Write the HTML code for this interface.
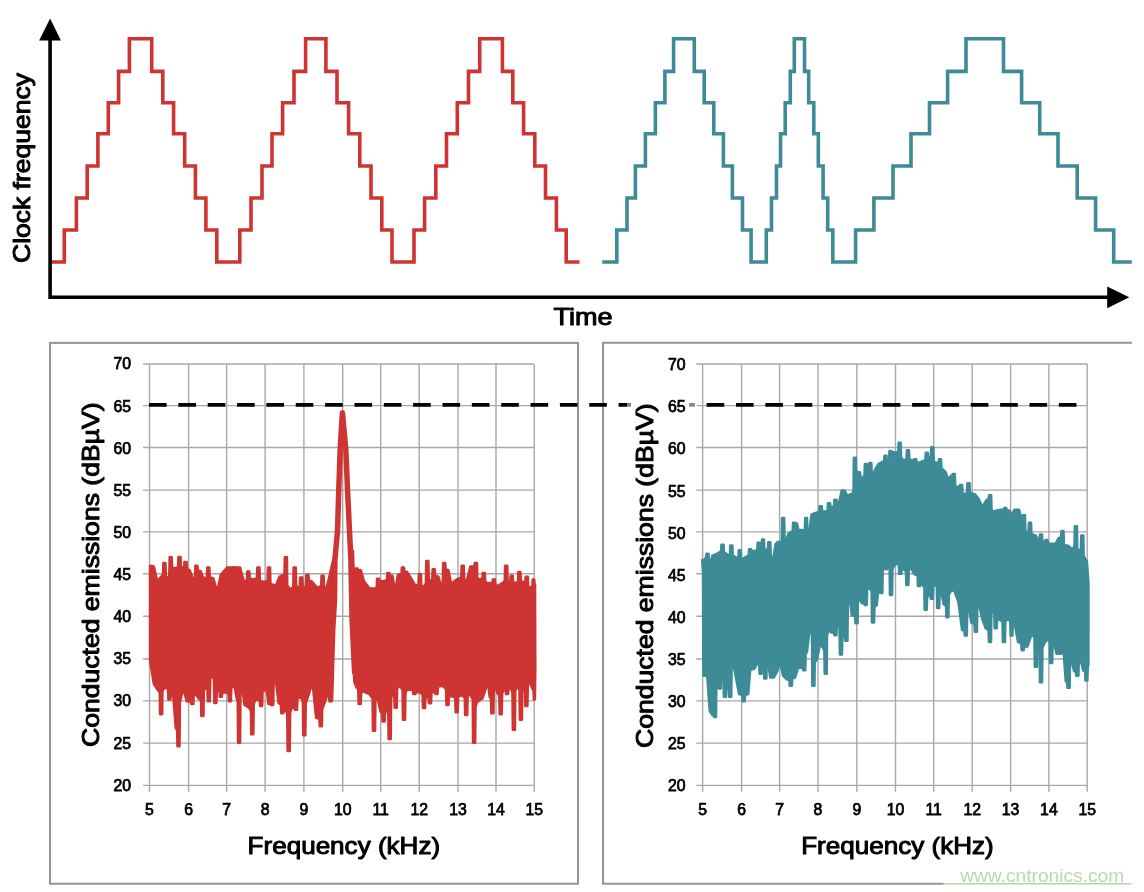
<!DOCTYPE html>
<html lang="en"><head><meta charset="utf-8"><title>Clock frequency dithering: conducted emissions</title>
<style>html,body{margin:0;padding:0;background:#fff}body{width:1144px;height:892px;overflow:hidden}svg{display:block}text{font-family:"Liberation Sans",Arial,Helvetica,sans-serif;fill:#000}.t{font-size:24px;stroke:#000;stroke-width:1px;stroke-linejoin:round}.n{font-size:15.8px;stroke:#000;stroke-width:.75px}</style></head><body>
<svg width="1144" height="892" viewBox="0 0 1144 892">
<rect width="1144" height="892" fill="#fff"/>
<path d="M50.0 262.0H64.3V230.0H76.4V198.0H87.2V166.0H97.9V133.8H108.3V102.7H118.6V71.4H129.4V38.8H151.7V71.4H162.8V102.7H173.6V133.8H184.7V166.0H195.4V198.0H205.9V230.0H216.8V262.0H239.8V230.0H251.0V198.0H262.0V166.0H272.0V133.8H282.6V102.7H294.0V71.4H305.6V38.8H325.9V71.4H337.0V102.7H348.6V133.8H359.8V166.0H371.0V198.0H381.8V230.0H392.0V262.0H414.0V230.0H424.6V198.0H435.8V166.0H446.5V133.8H457.3V102.7H468.5V71.4H479.7V38.8H502.4V71.4H512.8V102.7H523.6V133.8H534.8V166.0H545.5V198.0H556.4V230.0H566.2V262.0H579.5" fill="none" stroke="#CE3432" stroke-width="3.6" stroke-linejoin="miter"/>
<path d="M602.2 262.0H616.8V230.0H627.0V198.0H635.4V166.0H645.4V133.8H655.4V102.7H664.9V71.4H673.6V38.8H694.3V71.4H704.2V102.7H713.8V133.8H723.4V166.0H732.4V198.0H742.5V230.0H751.1V262.0H766.3V230.0H771.5V198.0H776.5V166.0H780.5V133.8H785.2V102.7H790.3V71.4H794.3V38.8H804.5V71.4H808.7V102.7H813.8V133.8H818.3V166.0H823.1V198.0H827.7V230.0H832.8V262.0H855.6V230.0H873.9V198.0H893.0V166.0H911.0V133.8H929.5V102.7H947.6V71.4H966.0V38.8H1003.5V71.4H1021.6V102.7H1039.7V133.8H1058.0V166.0H1077.2V198.0H1095.6V230.0H1113.7V262.0H1131.8" fill="none" stroke="#3D8B96" stroke-width="3.6" stroke-linejoin="miter"/>
<path d="M50.1 40V297.2H1108" fill="none" stroke="#000" stroke-width="3.6" stroke-linejoin="miter"/>
<path d="M50.1 18.6L39.1 40.4H60.9Z" fill="#000"/>
<path d="M1129.2 297.3L1107.2 286.4V308.3Z" fill="#000"/>
<text class="t" transform="translate(30.2 263) rotate(-90)" textLength="190" lengthAdjust="spacingAndGlyphs">Clock frequency</text>
<text class="t" x="553.6" y="324.6" textLength="59" lengthAdjust="spacingAndGlyphs">Time</text>
<rect x="50" y="342.9" width="528" height="540.8" fill="none" stroke="#959595" stroke-width="2"/>
<path d="M1132 342.8H603V883.7H944" fill="none" stroke="#959595" stroke-width="2"/>
<path d="M149.50 364.05V791.65M188.60 364.05V791.65M226.60 364.05V791.65M265.10 364.05V791.65M303.90 364.05V791.65M342.70 364.05V791.65M380.70 364.05V791.65M419.20 364.05V791.65M458.00 364.05V791.65M496.00 364.05V791.65M534.20 364.05V791.65M143.10 364.05H534.20M143.10 405.60H534.20M143.10 447.50H534.20M143.10 490.10H534.20M143.10 531.90H534.20M143.10 573.80H534.20M143.10 616.20H534.20M143.10 659.00H534.20M143.10 700.90H534.20M143.10 743.10H534.20M143.10 785.35H534.20" fill="none" stroke="#a8a8a8" stroke-width="1.4"/>
<path d="M702.65 364.05V791.65M741.60 364.05V791.65M779.60 364.05V791.65M818.00 364.05V791.65M856.80 364.05V791.65M895.50 364.05V791.65M933.70 364.05V791.65M972.20 364.05V791.65M1010.60 364.05V791.65M1048.90 364.05V791.65M1087.20 364.05V791.65M696.25 364.05H1087.20M696.25 405.60H1087.20M696.25 447.50H1087.20M696.25 490.10H1087.20M696.25 531.90H1087.20M696.25 573.80H1087.20M696.25 616.20H1087.20M696.25 659.00H1087.20M696.25 700.90H1087.20M696.25 743.10H1087.20M696.25 785.35H1087.20" fill="none" stroke="#a8a8a8" stroke-width="1.4"/>
<path d="M150.1 565.7L153.8 566.6L157.4 582.0L161.0 576.7L163.1 575.1L163.4 563.0L165.4 563.0L165.8 576.6L167.5 578.5L169.3 576.0L169.7 557.4L171.7 557.4L172.0 567.2L174.9 568.5L178.2 567.1L178.5 557.0L180.5 557.0L180.8 566.2L182.2 567.5L184.2 566.8L184.5 562.0L186.5 562.0L186.8 569.3L189.6 570.3L193.2 579.5L195.1 577.8L195.4 565.7L197.4 565.7L197.8 570.5L200.6 571.2L203.3 578.5L207.0 577.2L207.3 567.5L209.3 567.5L209.7 577.2L213.4 578.5L217.1 592.0L220.8 574.9L227.2 567.5L232.2 567.5L232.6 567.2L234.6 567.2L234.9 567.5L240.0 567.5L243.7 581.3L247.0 580.1L247.3 571.6L249.3 571.6L249.7 578.6L253.8 579.5L257.0 578.1L257.4 567.5L259.4 567.5L259.8 580.4L263.9 582.2L267.6 580.4L268.0 567.5L270.0 567.5L270.4 583.8L275.8 586.0L279.5 576.7L284.5 574.4L284.9 557.4L286.9 557.4L287.2 585.6L290.5 589.5L293.3 586.9L293.7 567.5L295.7 567.5L296.1 585.3L297.9 587.7L299.8 586.5L300.2 577.6L302.2 577.6L302.6 586.5L304.3 587.7L306.0 586.2L306.4 574.9L308.4 574.9L308.8 580.5L311.6 581.3L317.1 587.7L321.2 586.3L321.6 575.8L323.6 575.8L324.0 587.1L326.3 588.6L329.0 578.5L332.7 562.0L334.5 556.0L332.0 680.0L331.7 681.9L331.3 695.8L329.8 695.8L329.4 695.0L327.2 694.9L323.5 705.9L322.2 708.3L321.8 726.1L319.8 726.1L319.4 718.8L316.2 717.8L312.5 682.0L307.0 699.5L305.7 703.8L305.3 735.3L303.3 735.3L302.9 701.3L300.6 696.7L297.4 698.2L297.0 709.6L295.0 709.6L294.6 707.9L291.4 707.7L290.1 712.9L289.7 750.9L287.7 750.9L287.3 714.6L285.9 709.6L283.7 710.0L283.3 713.2L281.3 713.2L280.9 704.3L278.6 703.1L275.8 679.3L273.6 682.4L273.2 705.0L271.2 705.0L270.8 704.1L268.5 704.0L266.7 689.4L262.5 691.4L262.1 705.9L260.1 705.9L259.8 700.3L255.6 699.5L253.7 703.7L253.3 734.3L251.3 734.3L251.0 710.9L249.2 707.7L244.6 705.0L241.9 685.7L240.4 692.5L240.1 742.6L238.1 742.6L237.8 702.2L236.4 696.7L234.5 685.7L231.2 687.6L230.9 701.3L228.9 701.3L228.6 693.2L226.3 692.1L222.2 692.7L221.8 696.7L219.8 696.7L219.5 690.3L218.0 689.4L216.7 691.0L216.3 703.0L214.3 703.0L214.0 678.9L212.1 675.6L210.2 678.7L209.8 701.3L207.8 701.3L207.5 689.2L205.2 687.5L203.8 690.9L203.4 716.0L201.4 716.0L201.1 700.6L198.7 698.5L195.1 693.0L193.7 694.3L193.3 704.0L191.3 704.0L191.0 701.6L186.8 701.3L183.1 687.5L181.3 696.7L179.8 702.7L179.5 746.3L177.5 746.3L177.2 730.2L175.8 728.0L173.0 692.1L170.8 693.0L170.4 699.5L168.4 699.5L168.1 688.9L164.8 687.5L162.4 690.7L162.1 714.1L160.1 714.1L159.8 692.4L157.4 689.4L153.8 683.9L150.1 660.0Z" fill="#CE3432" stroke="#CE3432" stroke-width="2.6" stroke-linejoin="round"/>
<path d="M352.9 551.0L353.9 582.2L355.2 580.6L355.6 568.5L357.6 568.5L358.0 570.1L360.8 570.3L364.0 581.3L369.5 588.6L375.0 588.6L376.8 587.4L377.1 578.9L379.1 578.9L379.5 581.0L383.2 581.3L387.0 580.3L387.4 573.0L389.4 573.0L389.8 575.5L392.4 575.8L395.2 592.3L397.9 574.9L401.5 574.0L401.9 567.5L403.9 567.5L404.2 571.5L407.1 572.1L411.7 579.5L415.4 585.9L418.5 584.5L418.9 574.0L420.9 574.0L421.2 585.3L423.6 586.8L425.9 583.7L426.3 561.0L428.3 561.0L428.7 578.9L430.6 581.3L432.3 579.9L432.7 569.4L434.7 569.4L435.1 575.8L438.3 576.7L441.0 585.9L442.8 583.2L443.2 563.0L445.2 563.0L445.6 569.4L448.4 570.3L451.1 584.0L456.7 579.5L461.3 577.8L461.7 565.7L463.7 565.7L464.1 579.4L466.7 581.3L470.4 566.6L474.5 566.2L474.9 563.0L476.9 563.0L477.2 577.5L478.7 579.5L482.4 578.7L482.8 573.0L484.8 573.0L485.2 581.9L487.9 583.1L492.5 582.7L492.9 579.5L494.9 579.5L495.2 585.1L498.0 585.9L502.5 583.1L504.8 581.0L505.2 565.7L507.2 565.7L507.6 581.0L509.0 583.1L510.3 582.2L510.7 575.8L512.7 575.8L513.1 582.2L515.4 583.1L518.0 581.8L518.4 572.1L520.4 572.1L520.8 581.0L522.7 582.2L525.4 581.5L525.8 576.7L527.8 576.7L528.1 586.4L530.1 587.7L532.4 586.7L532.7 579.5L534.2 579.5L534.6 584.3L535.0 585.0L535.2 660.0L535.3 664.7L534.9 699.5L533.9 699.5L533.6 690.6L532.8 689.4L529.2 681.1L527.8 684.1L527.4 705.9L525.4 705.9L525.0 689.7L523.7 687.5L522.2 691.4L521.9 719.7L519.9 719.7L519.5 689.8L517.2 685.7L515.2 691.0L514.9 729.7L512.9 729.7L512.5 692.6L510.8 687.5L508.5 688.3L508.1 694.0L506.1 694.0L505.8 690.7L503.5 690.3L502.1 693.2L501.7 714.1L499.7 714.1L499.3 695.5L497.4 693.0L495.2 685.7L493.8 689.0L493.4 713.2L491.4 713.2L491.0 698.7L489.7 696.7L487.9 682.0L482.4 698.5L476.8 702.2L475.5 707.0L475.1 742.6L473.1 742.6L472.8 699.0L469.1 693.0L467.6 695.6L467.2 715.0L465.2 715.0L464.8 697.3L461.2 694.9L458.1 697.0L457.7 712.3L455.7 712.3L455.3 697.8L451.1 695.8L448.9 696.9L448.5 705.0L446.5 705.0L446.1 689.6L444.7 687.5L442.0 685.7L437.9 686.7L437.5 694.0L435.5 694.0L435.1 692.3L432.8 692.1L431.4 693.4L431.0 703.1L429.0 703.1L428.6 697.5L427.3 696.7L425.4 698.1L425.0 708.0L423.0 708.0L422.6 694.0L419.0 692.1L415.8 692.3L415.4 694.0L413.4 694.0L413.0 690.0L407.1 689.4L405.4 693.0L405.0 719.7L403.0 719.7L402.6 689.8L399.4 685.7L397.1 688.3L396.7 707.7L394.7 707.7L394.3 694.8L392.4 693.0L391.1 698.5L390.7 738.9L388.7 738.9L388.3 713.1L386.0 709.6L385.0 711.0L384.6 721.5L382.6 721.5L382.2 712.6L380.5 711.4L377.4 696.7L375.4 700.8L375.0 730.7L373.0 730.7L372.6 698.4L369.5 694.0L363.0 691.2L361.1 692.7L360.7 704.0L358.7 704.0L358.3 689.5L356.6 687.5L354.4 682.0L353.4 660.0Z" fill="#CE3432" stroke="#CE3432" stroke-width="2.6" stroke-linejoin="round"/>
<path d="M330.6 700L332.7 630L334.5 600L334.9 560L337.5 531L338.8 489L340.2 449L342.4 412.8L345.8 449L347.5 489L349.5 531L350.9 560L352.1 620L354.6 672" fill="none" stroke="#CE3432" stroke-width="5.5" stroke-linejoin="round" stroke-linecap="round"/>
<path d="M702.7 562.2L705.1 558.5L706.1 557.9L706.5 553.9L708.5 553.9L708.8 562.8L710.1 564.0L712.4 555.7L717.0 553.9L719.8 552.1L721.2 551.2L721.5 544.7L723.5 544.7L723.9 552.0L725.3 553.0L729.0 555.7L730.0 554.5L730.3 545.6L732.3 545.6L732.7 555.3L734.5 556.7L737.6 558.5L738.4 557.5L738.8 550.2L740.6 550.2L741.0 558.3L742.4 559.4L746.4 556.7L748.7 555.8L749.1 549.3L751.1 549.3L751.4 550.9L754.7 551.1L757.3 550.2L757.7 542.9L759.7 542.9L760.0 548.5L761.1 549.3L761.8 548.1L762.1 539.6L763.9 539.6L764.3 549.0L765.7 550.2L768.0 549.3L768.3 542.3L770.3 542.3L770.7 557.4L773.0 559.4L775.8 543.8L777.2 543.6L777.5 542.0L779.5 542.0L779.9 546.8L780.9 547.5L781.8 544.0L782.2 518.1L784.1 518.1L784.5 539.1L785.5 542.0L788.6 533.7L791.4 531.9L792.8 530.8L793.1 522.7L795.1 522.7L795.5 523.5L796.9 523.6L798.7 531.0L800.1 530.8L800.5 530.0L802.5 530.0L802.8 530.8L804.2 531.0L804.9 529.4L805.3 518.1L807.0 518.1L807.4 534.3L808.8 536.5L811.6 514.4L814.3 513.5L817.1 512.6L819.4 511.8L819.7 506.2L821.7 506.2L822.1 511.0L824.4 511.7L827.6 510.7L828.0 503.4L830.0 503.4L830.3 506.7L831.7 507.1L834.1 506.2L834.4 499.8L836.4 499.8L836.8 502.2L839.1 502.5L841.8 490.6L844.6 490.6L847.3 496.1L850.7 494.2L852.9 493.3L853.6 489.1L853.9 457.9L855.7 457.9L856.0 470.5L857.4 472.2L859.8 472.2L861.7 483.2L863.9 475.9L864.6 474.5L864.9 464.0L866.7 464.0L867.1 472.8L868.1 474.1L869.0 472.7L869.4 463.0L871.3 463.0L871.6 472.7L873.0 474.1L875.8 468.5L878.6 464.0L882.2 462.1L884.2 461.4L884.5 455.7L886.5 455.7L886.8 465.4L887.7 466.7L889.1 464.8L889.5 451.1L891.5 451.1L891.8 451.9L893.2 452.0L896.0 452.9L898.3 451.7L898.7 442.8L900.7 442.8L901.0 457.4L902.4 459.4L905.1 460.3L906.6 459.1L906.9 450.2L908.9 450.2L909.3 459.1L911.6 460.3L913.9 460.2L914.2 459.4L916.2 459.4L916.6 462.6L918.9 463.0L922.6 461.2L925.5 460.2L925.8 452.9L927.8 452.9L928.2 457.0L929.9 457.5L931.0 456.3L931.3 447.4L933.3 447.4L933.7 461.2L935.4 463.0L938.7 462.6L939.0 459.4L941.0 459.4L941.4 468.3L942.8 469.5L945.5 472.2L948.3 479.6L951.0 475.9L952.4 475.7L952.8 474.1L954.8 474.1L955.1 485.4L956.5 486.9L959.8 486.7L960.1 485.1L962.1 485.1L962.5 493.1L963.9 494.2L967.1 492.9L967.5 483.2L969.5 483.2L969.8 492.1L971.2 493.3L974.9 494.2L978.6 498.8L982.2 507.1L986.8 499.8L988.8 499.2L989.1 495.2L991.1 495.2L991.5 509.7L993.3 511.7L996.0 510.8L1000.6 509.8L1003.8 509.6L1004.2 508.0L1006.2 508.0L1006.5 510.4L1009.8 510.8L1011.6 516.3L1014.4 509.8L1019.0 509.8L1021.7 519.9L1022.6 519.4L1023.0 515.4L1024.9 515.4L1025.3 530.7L1027.2 532.8L1028.6 531.6L1029.0 522.7L1031.0 522.7L1031.3 533.2L1032.7 534.6L1035.5 535.5L1038.2 540.1L1039.6 539.5L1040.0 534.6L1042.0 534.6L1042.3 541.1L1043.7 542.0L1045.1 541.7L1045.5 540.1L1047.5 540.1L1047.8 543.4L1049.2 543.8L1055.7 543.8L1058.4 538.3L1061.1 537.4L1061.5 531.0L1063.5 531.0L1063.8 543.9L1064.8 545.6L1067.6 545.6L1072.2 549.3L1074.5 546.6L1074.9 526.4L1076.9 526.4L1077.2 548.2L1078.6 551.1L1080.9 549.3L1081.3 535.5L1083.3 535.5L1083.6 555.7L1085.0 558.5L1086.9 562.2L1088.3 582.3L1088.4 584.1L1088.4 664.8L1087.7 666.7L1087.3 680.4L1085.5 680.4L1085.2 671.5L1083.2 670.3L1080.5 659.3L1078.7 661.3L1078.4 675.8L1076.4 675.8L1076.0 671.8L1074.1 671.2L1071.3 659.3L1069.9 662.7L1069.6 687.8L1067.6 687.8L1067.2 682.1L1065.8 681.3L1063.0 642.8L1061.2 653.8L1056.6 653.8L1053.9 642.8L1052.5 645.2L1052.1 663.0L1050.1 663.0L1049.8 642.0L1047.4 639.1L1044.7 642.8L1042.4 647.5L1042.0 682.3L1040.0 682.3L1039.7 647.5L1038.3 642.8L1037.2 645.7L1036.9 666.7L1034.9 666.7L1034.5 637.6L1031.8 633.6L1027.3 646.5L1024.0 646.9L1023.7 650.1L1021.7 650.1L1021.3 642.9L1018.1 641.9L1013.5 617.1L1012.8 619.3L1012.4 635.4L1010.7 635.4L1010.3 620.9L1007.1 618.9L1005.3 621.7L1004.9 641.9L1002.9 641.9L1002.6 621.7L998.8 618.9L997.0 620.0L996.7 628.1L994.7 628.1L994.3 612.0L993.3 609.8L991.3 613.6L991.0 641.9L989.0 641.9L988.6 629.8L985.6 628.1L982.3 618.9L978.6 602.4L977.2 605.9L976.9 631.8L974.9 631.8L974.5 623.7L971.3 622.6L968.5 604.2L967.1 608.0L966.8 635.4L964.8 635.4L964.4 630.6L962.1 629.9L958.4 601.5L953.8 589.6L950.7 591.4L948.8 594.5L948.4 617.1L946.4 617.1L946.1 605.8L943.7 604.2L941.0 589.6L939.6 591.8L939.2 607.9L937.2 607.9L936.9 586.9L934.6 584.1L933.2 585.8L932.8 598.7L930.8 598.7L930.5 595.5L929.1 595.1L927.1 596.8L926.7 609.8L924.7 609.8L924.4 587.1L921.7 584.1L920.3 584.3L920.0 585.9L918.0 585.9L917.6 575.4L914.4 574.0L910.7 567.5L908.7 569.6L908.4 585.0L906.4 585.0L906.0 571.1L903.3 569.2L901.6 569.7L901.2 573.8L899.2 573.8L898.9 564.9L896.9 563.7L894.2 565.5L892.4 569.0L892.0 594.9L890.0 594.9L889.7 569.0L888.6 565.5L887.2 565.9L886.9 569.2L885.1 569.2L884.8 565.9L884.1 565.5L882.7 568.8L882.3 593.0L880.3 593.0L880.0 586.6L878.6 585.7L876.7 605.0L874.4 607.1L874.0 622.4L872.0 622.4L871.7 591.7L869.4 587.5L867.1 589.6L866.7 605.0L864.7 605.0L864.4 603.4L862.0 603.1L859.3 598.5L857.9 601.5L857.5 623.3L855.5 623.3L855.2 616.1L851.9 615.1L849.2 594.9L847.8 600.4L847.4 640.8L845.4 640.8L845.1 635.9L843.7 635.3L842.3 637.6L841.9 654.5L839.9 654.5L839.6 627.9L838.2 624.2L836.8 625.6L836.4 635.3L834.4 635.3L834.1 632.8L831.7 632.5L828.1 630.7L827.0 635.8L826.7 673.8L824.8 673.8L824.4 651.2L823.5 648.1L819.8 644.4L817.1 659.1L814.7 662.3L814.4 685.7L812.4 685.7L812.0 634.9L809.7 627.9L807.0 651.8L805.6 654.0L805.2 670.1L803.2 670.1L802.9 667.7L800.5 667.4L797.8 668.3L795.0 677.5L792.2 678.5L791.8 685.7L789.8 685.7L789.5 680.1L786.8 679.3L783.1 675.6L779.4 659.1L777.6 670.1L773.9 677.5L770.3 677.5L768.1 661.0L766.7 663.0L766.3 678.4L764.3 678.4L764.0 655.0L762.9 651.8L761.9 654.4L761.5 673.8L759.6 673.8L759.3 662.5L758.3 661.0L754.7 668.3L750.1 670.1L748.2 694.0L745.0 694.9L744.6 701.3L742.6 701.3L742.3 694.9L739.1 694.0L736.3 679.3L733.2 662.8L731.6 666.9L731.2 696.7L729.2 696.7L728.9 687.9L727.7 686.7L726.3 687.9L725.9 696.7L723.9 696.7L723.6 678.2L722.5 675.6L721.1 677.2L720.8 688.5L718.8 688.5L718.4 680.4L717.0 679.3L716.3 683.8L716.0 716.9L714.2 716.9L713.8 715.3L712.4 715.1L709.7 710.5L706.9 670.1L705.5 670.8L705.2 675.6L703.4 675.6L703.1 573.9L702.3 560.0Z" fill="#3D8B96" stroke="#3D8B96" stroke-width="2.6" stroke-linejoin="round"/>
<path d="M149.00 404.9h17.6M178.35 404.9h17.6M207.70 404.9h17.6M237.05 404.9h17.6M266.40 404.9h17.6M295.75 404.9h17.6M325.10 404.9h17.6M354.45 404.9h17.6M383.80 404.9h17.6M413.15 404.9h17.6M442.50 404.9h17.6M471.85 404.9h17.6M501.20 404.9h17.6M530.55 404.9h17.6M559.90 404.9h17.6M589.25 404.9h17.6M618.60 404.9h17.6M647.95 404.9h17.6M677.30 404.9h17.6M706.65 404.9h17.6M736.00 404.9h17.6M765.35 404.9h17.6M794.70 404.9h17.6M824.05 404.9h17.6M853.40 404.9h17.6M882.75 404.9h17.6M912.10 404.9h17.6M941.45 404.9h17.6M970.80 404.9h17.6M1000.15 404.9h17.6M1029.50 404.9h17.6M1058.85 404.9h17.6" fill="none" stroke="#000" stroke-width="3.6"/>
<rect x="631" y="396" width="58" height="20" fill="#fff"/>
<rect x="627" y="400" width="5" height="10" fill="#fff" fill-opacity=".5"/>
<rect x="687" y="400" width="10" height="10" fill="#fff" fill-opacity=".55"/>
<text class="n" x="131" y="369.4" text-anchor="end">70</text>
<text class="n" x="685.6" y="370.2" text-anchor="end">70</text>
<text class="n" x="131" y="411.5" text-anchor="end">65</text>
<text class="n" x="685.6" y="412.3" text-anchor="end">65</text>
<text class="n" x="131" y="453.6" text-anchor="end">60</text>
<text class="n" x="685.6" y="454.4" text-anchor="end">60</text>
<text class="n" x="131" y="495.7" text-anchor="end">55</text>
<text class="n" x="685.6" y="496.5" text-anchor="end">55</text>
<text class="n" x="131" y="537.9" text-anchor="end">50</text>
<text class="n" x="685.6" y="538.7" text-anchor="end">50</text>
<text class="n" x="131" y="580.0" text-anchor="end">45</text>
<text class="n" x="685.6" y="580.8" text-anchor="end">45</text>
<text class="n" x="131" y="622.1" text-anchor="end">40</text>
<text class="n" x="685.6" y="622.9" text-anchor="end">40</text>
<text class="n" x="131" y="664.3" text-anchor="end">35</text>
<text class="n" x="685.6" y="665.1" text-anchor="end">35</text>
<text class="n" x="131" y="706.4" text-anchor="end">30</text>
<text class="n" x="685.6" y="707.2" text-anchor="end">30</text>
<text class="n" x="131" y="748.5" text-anchor="end">25</text>
<text class="n" x="685.6" y="749.3" text-anchor="end">25</text>
<text class="n" x="131" y="790.6" text-anchor="end">20</text>
<text class="n" x="685.6" y="791.4" text-anchor="end">20</text>
<text class="n" x="149.5" y="815.4" text-anchor="middle">5</text>
<text class="n" x="702.6" y="815.4" text-anchor="middle">5</text>
<text class="n" x="188.6" y="815.4" text-anchor="middle">6</text>
<text class="n" x="741.6" y="815.4" text-anchor="middle">6</text>
<text class="n" x="226.6" y="815.4" text-anchor="middle">7</text>
<text class="n" x="779.6" y="815.4" text-anchor="middle">7</text>
<text class="n" x="265.1" y="815.4" text-anchor="middle">8</text>
<text class="n" x="818.0" y="815.4" text-anchor="middle">8</text>
<text class="n" x="303.9" y="815.4" text-anchor="middle">9</text>
<text class="n" x="856.8" y="815.4" text-anchor="middle">9</text>
<text class="n" x="342.7" y="815.4" text-anchor="middle">10</text>
<text class="n" x="895.5" y="815.4" text-anchor="middle">10</text>
<text class="n" x="380.7" y="815.4" text-anchor="middle">11</text>
<text class="n" x="933.7" y="815.4" text-anchor="middle">11</text>
<text class="n" x="419.2" y="815.4" text-anchor="middle">12</text>
<text class="n" x="972.2" y="815.4" text-anchor="middle">12</text>
<text class="n" x="458.0" y="815.4" text-anchor="middle">13</text>
<text class="n" x="1010.6" y="815.4" text-anchor="middle">13</text>
<text class="n" x="496.0" y="815.4" text-anchor="middle">14</text>
<text class="n" x="1048.9" y="815.4" text-anchor="middle">14</text>
<text class="n" x="534.2" y="815.4" text-anchor="middle">15</text>
<text class="n" x="1087.2" y="815.4" text-anchor="middle">15</text>
<text class="t" transform="translate(99 747) rotate(-90)" textLength="344.5" lengthAdjust="spacingAndGlyphs">Conducted emissions (dBµV)</text>
<text class="t" transform="translate(652.7 748) rotate(-90)" textLength="344.5" lengthAdjust="spacingAndGlyphs">Conducted emissions (dBµV)</text>
<text class="t" x="247.6" y="853.8" textLength="192.5" lengthAdjust="spacingAndGlyphs">Frequency (kHz)</text>
<text class="t" x="801.2" y="854.1" textLength="192.5" lengthAdjust="spacingAndGlyphs">Frequency (kHz)</text>
<path d="M943 883.8H1131.7" stroke="#b9d3ad" stroke-width="1.6" fill="none"/>
<text x="960.2" y="881.9" style="font-size:18.5px;fill:#b9d9aa" textLength="164" lengthAdjust="spacingAndGlyphs">www.cntronics.com</text>
</svg></body></html>
